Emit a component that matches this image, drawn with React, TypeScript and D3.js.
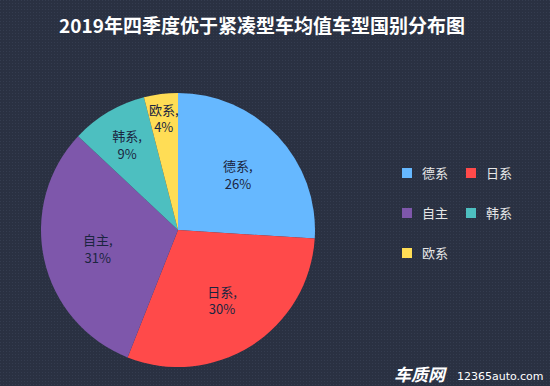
import React, { useEffect, useRef } from 'react';
import * as d3 from 'd3';

const title = '2019年四季度优于紧凑型车均值车型国别分布图';
const categories = ['德系', '日系', '自主', '韩系', '欧系'];
const values = [26, 30, 31, 9, 4];
const colors = ['#66b8ff', '#ff4a4a', '#7e57ab', '#4dbfc0', '#ffdd55'];

const W = 550;
const H = 386;

const App = () => {
  const svgRef = useRef<SVGSVGElement>(null);

  useEffect(() => {
    const svg = d3.select(svgRef.current);
    svg.selectAll('*').remove();

    const font = '"Noto Sans CJK SC", "Noto Sans", sans-serif';

    // background with faint dot texture
    const defs = svg.append('defs');
    const pat = defs.append('pattern')
      .attr('id', 'bgdots')
      .attr('width', 3).attr('height', 3)
      .attr('patternUnits', 'userSpaceOnUse');
    pat.append('rect').attr('width', 3).attr('height', 3).attr('fill', '#2a3142');
    pat.append('rect').attr('width', 1).attr('height', 1).attr('fill', '#343c4f');

    svg.append('rect').attr('width', W).attr('height', H).attr('fill', 'url(#bgdots)');

    svg.append('text')
      .attr('x', 262).attr('y', 33)
      .attr('text-anchor', 'middle')
      .style('font-family', font)
      .style('font-size', '19px')
      .style('font-weight', 'bold')
      .style('fill', '#ffffff')
      .text(title);

    const cx = 178, cy = 230, r = 137;
    const data = categories.map((c, i) => ({ name: c, value: values[i], color: colors[i] }));

    const pie = d3.pie<any>().value(d => d.value).sort(null);
    const arc = d3.arc<any>().innerRadius(0).outerRadius(r);
    // small slices get their labels pushed outward
    const labelR = (v: number) => r * (v < 5 ? 0.83 : v < 10 ? 0.73 : 0.6);

    const g = svg.append('g').attr('transform', `translate(${cx}, ${cy})`);
    const arcs = pie(data);

    g.selectAll('.slice')
      .data(arcs)
      .enter().append('path')
      .attr('class', 'slice')
      .attr('d', arc)
      .style('fill', d => d.data.color)
      .style('stroke', 'none');

    const lbl = g.selectAll('.lbl')
      .data(arcs)
      .enter().append('text')
      .attr('class', 'lbl')
      .attr('transform', d => {
        const lr = labelR(d.data.value);
        return `translate(${d3.arc<any>().innerRadius(lr).outerRadius(lr).centroid(d)})`;
      })
      .attr('text-anchor', 'middle')
      .style('font-family', font)
      .style('font-size', '13px')
      .style('fill', '#1b2540');
    lbl.append('tspan').attr('x', 0).attr('dy', '-0.2em').text(d => `${d.data.name},`);
    lbl.append('tspan').attr('x', 0).attr('dy', '1.35em').text(d => `${d.data.value}%`);

    // legend
    const legendPos = [
      { x: 402, y: 168 }, { x: 466, y: 168 },
      { x: 402, y: 208 }, { x: 466, y: 208 },
      { x: 402, y: 248 },
    ];
    const lg = svg.selectAll('.legend')
      .data(data)
      .enter().append('g')
      .attr('class', 'legend')
      .attr('transform', (d, i) => `translate(${legendPos[i].x}, ${legendPos[i].y})`);
    lg.append('rect')
      .attr('width', 10).attr('height', 10)
      .style('fill', d => d.color);
    lg.append('text')
      .attr('x', 20).attr('y', 5).attr('dy', '0.35em')
      .style('font-family', font)
      .style('font-size', '13px')
      .style('fill', '#e6e6e6')
      .text(d => d.name);

    // watermark
    svg.append('text')
      .attr('x', 394).attr('y', 381)
      .style('font-family', font)
      .style('font-size', '17px')
      .style('font-weight', 'bold')
      .style('font-style', 'italic')
      .style('fill', '#ffffff')
      .text('车质网');
    svg.append('text')
      .attr('x', 457).attr('y', 380)
      .style('font-family', '"DejaVu Sans", sans-serif')
      .style('font-size', '11px')
      .style('fill', '#ffffff')
      .text('12365auto.com');
  }, []);

  return (
    <svg ref={svgRef} width={W} height={H} style={{ display: 'block', position: 'absolute', left: 0, top: 0 }}></svg>
  );
};

export default App;
